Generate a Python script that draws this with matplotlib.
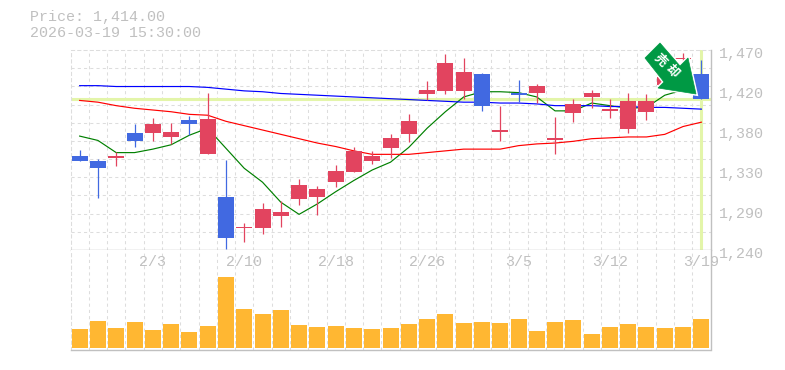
import matplotlib
matplotlib.use('Agg')
import matplotlib.pyplot as plt
from matplotlib.patches import Polygon

# price data (blue = close below open, red = close above open)
opens = [1348, 1342, 1346, 1375, 1375, 1370, 1390, 1350, 1301, 1265, 1265, 1279,
         1299, 1301, 1318, 1330, 1342, 1357, 1373, 1419, 1423, 1423, 1442, 1376,
         1421, 1421, 1367, 1398, 1416, 1400, 1379, 1399, 1430, 1460, 1442]
highs = [1355, 1345, 1353, 1385, 1392, 1386, 1394, 1421, 1344, 1271, 1294, 1296,
         1322, 1314, 1338, 1358, 1354, 1373, 1396, 1434, 1465, 1461, 1444, 1406,
         1436, 1431, 1393, 1414, 1424, 1414, 1421, 1419, 1445, 1467, 1459]
lows = [1342, 1300, 1337, 1358, 1365, 1362, 1372, 1350, 1241, 1249, 1258, 1266,
        1292, 1280, 1312, 1330, 1339, 1346, 1364, 1412, 1419, 1414, 1400, 1365,
        1410, 1409, 1350, 1387, 1403, 1392, 1375, 1390, 1424, 1457, 1414]
closes = [1342, 1334, 1348, 1365, 1385, 1376, 1385, 1391, 1254, 1266, 1287, 1284,
          1315, 1310, 1331, 1354, 1348, 1369, 1388, 1424, 1455, 1445, 1406, 1378,
          1418, 1429, 1369, 1408, 1421, 1402, 1411, 1411, 1439, 1461, 1414]
ma5 = [1371, 1366, 1352, 1352, 1356, 1361, 1372, 1380, 1357, 1334, 1318, 1295,
       1281, 1293, 1307, 1320, 1332, 1341, 1358, 1380, 1399, 1416, 1422, 1422,
       1421, 1416, 1400, 1400, 1409, 1406, 1403, 1404, 1418, 1424, 1430]
ma25 = [1429, 1429, 1428, 1428, 1428, 1428, 1428, 1427, 1425, 1423, 1422, 1420,
        1419, 1418, 1417, 1416, 1415, 1414, 1413, 1412, 1411, 1410, 1410, 1409,
        1409, 1408, 1406, 1406, 1406, 1405, 1405, 1404, 1404, 1403, 1402]
ma75 = [1412, 1410, 1406, 1403, 1401, 1399, 1396, 1395, 1388, 1383, 1378, 1373,
        1368, 1363, 1359, 1354, 1350, 1350, 1350, 1352, 1354, 1356, 1356, 1356,
        1360, 1362, 1363, 1365, 1368, 1369, 1370, 1370, 1373, 1382, 1387]
volumes = [190, 270, 200, 260, 180, 240, 160, 220, 710, 390, 340, 380, 230, 210,
           220, 200, 190, 200, 240, 290, 340, 250, 260, 250, 290, 170, 260, 280,
           140, 210, 240, 210, 200, 210, 290]
date_pos = [4, 9, 14, 19, 24, 29, 34]
date_labels = ['2/3', '2/10', '2/18', '2/26', '3/5', '3/12', '3/19']
price_ticks = [1470, 1424, 1378, 1332, 1286, 1240]
price_labels = ['1,470', '1,420', '1,380', '1,330', '1,290', '1,240']
last_price = 1414

W, H = 785, 370
TXT = '#c0c0c0'
GRID = '#dddddd'
EDGE = '#c0c0c0'
RED = '#e2445f'
BLUE = '#4169e1'
LIME = '#e3f5a9'
FONT = 'Liberation Mono'
DASH = (0, (3, 3))

fig = plt.figure(figsize=(W / 100, H / 100), dpi=100)
ax = fig.add_axes([70.5 / W, 1 - 250 / H, 640 / W, 200 / H])
vol = fig.add_axes([70.5 / W, 1 - 350 / H, 640 / W, 100 / H])
n = len(closes)
xs = list(range(n))

for a in (ax, vol):
    a.set_xlim(-0.5, n - 0.5)
    a.set_xticks([i - 0.5 for i in range(n)])
    a.tick_params(length=0, labelbottom=False, labelleft=False)
    a.grid(axis='x', color=GRID, lw=0.75, ls=DASH)
    a.set_axisbelow(True)
    a.spines['left'].set(color=GRID, ls=DASH, lw=0.75)
    for s in ('right', 'bottom'):
        a.spines[s].set(color=EDGE, lw=1.0)
ax.spines['top'].set(color=GRID, ls=DASH, lw=0.75)
vol.spines['top'].set_visible(False)

# price panel
ax.set_ylim(1240, 1470)
ax.set_yticks([1240 + 230 * k / 11 for k in range(11)])
ax.grid(axis='y', color=GRID, lw=0.75, ls=DASH)
ax.axhline(last_price, color=LIME, lw=2.2, zorder=1)
ax.axvline(n - 1, color=LIME, lw=2.2, zorder=1)

# moving averages run under the candles
ax.plot(xs, ma5, color='#008000', lw=0.85, zorder=2)
ax.plot(xs, ma25, color='#0000ff', lw=0.85, zorder=2)
ax.plot(xs, ma75, color='#ff0000', lw=0.85, zorder=2)

for i in xs:
    col = RED if closes[i] >= opens[i] else BLUE
    ax.vlines(i, lows[i], highs[i], color=col, lw=0.9, zorder=3)
    ax.bar(i, abs(closes[i] - opens[i]), bottom=min(opens[i], closes[i]),
           width=0.875, color=col, zorder=3)

for v, lab in zip(price_ticks, price_labels):
    ax.annotate(lab, (1, v), xycoords=ax.get_yaxis_transform(), xytext=(8, -4),
                textcoords='offset pixels', ha='left', va='center',
                family=FONT, size=10.8, color=TXT, annotation_clip=False)

# volume panel
vol.set_ylim(-20, 980)
vol.set_yticks([])
vol.bar(xs, volumes, width=0.875, color='#ffb732', zorder=3)
for p, lab in zip(date_pos, date_labels):
    vol.annotate(lab, (p, 1), xycoords=vol.get_xaxis_transform(), xytext=(0, -12),
                 textcoords='offset pixels', ha='center', va='center',
                 family=FONT, size=10.8, color=TXT, annotation_clip=False)

fig.text(30 / W, 1 - 17 / H, 'Price: 1,414.00', family=FONT, size=10.8, color=TXT, va='center')
fig.text(30 / W, 1 - 33 / H, '2026-03-19 15:30:00', family=FONT, size=10.8, color=TXT, va='center')

# green arrow badge over the last candles, white halo under it
arrow = [(660, 43), (645, 58), (664, 82), (658, 88), (696, 94), (688, 58), (680, 66)]
arrow_pts = [(x / W, 1 - y / H) for x, y in arrow]
fig.add_artist(Polygon(arrow_pts, closed=True, transform=fig.transFigure,
                       fc='white', ec='white', lw=2.6, zorder=10))
fig.add_artist(Polygon(arrow_pts, closed=True, transform=fig.transFigure,
                       fc='#009944', ec='#009944', lw=0.5, zorder=10.5))
for ch, cx, cy in [('売', 660, 60), ('却', 672, 71)]:
    fig.text(cx / W, 1 - cy / H, ch, family=['Noto Sans CJK JP', 'DejaVu Sans'], size=9,
             weight='bold', color='white', rotation=-45, ha='center', va='center', zorder=11)

fig.savefig('out.png', dpi=100)
